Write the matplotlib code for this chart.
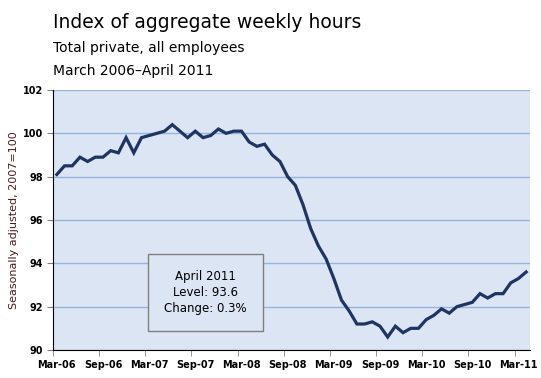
import matplotlib
matplotlib.use('Agg')
import matplotlib.pyplot as plt
import numpy as np

# monthly index, Mar 2006 - Apr 2011
months = ['Mar-06', 'Apr-06', 'May-06', 'Jun-06', 'Jul-06', 'Aug-06',
          'Sep-06', 'Oct-06', 'Nov-06', 'Dec-06', 'Jan-07', 'Feb-07',
          'Mar-07', 'Apr-07', 'May-07', 'Jun-07', 'Jul-07', 'Aug-07',
          'Sep-07', 'Oct-07', 'Nov-07', 'Dec-07', 'Jan-08', 'Feb-08',
          'Mar-08', 'Apr-08', 'May-08', 'Jun-08', 'Jul-08', 'Aug-08',
          'Sep-08', 'Oct-08', 'Nov-08', 'Dec-08', 'Jan-09', 'Feb-09',
          'Mar-09', 'Apr-09', 'May-09', 'Jun-09', 'Jul-09', 'Aug-09',
          'Sep-09', 'Oct-09', 'Nov-09', 'Dec-09', 'Jan-10', 'Feb-10',
          'Mar-10', 'Apr-10', 'May-10', 'Jun-10', 'Jul-10', 'Aug-10',
          'Sep-10', 'Oct-10', 'Nov-10', 'Dec-10', 'Jan-11', 'Feb-11',
          'Mar-11', 'Apr-11']
index_vals = [98.1, 98.5, 98.5, 98.9, 98.7, 98.9,
              98.9, 99.2, 99.1, 99.8, 99.1, 99.8,
              99.9, 100.0, 100.1, 100.4, 100.1, 99.8,
              100.1, 99.8, 99.9, 100.2, 100.0, 100.1,
              100.1, 99.6, 99.4, 99.5, 99.0, 98.7,
              98.0, 97.6, 96.7, 95.6, 94.8, 94.2,
              93.3, 92.3, 91.8, 91.2, 91.2, 91.3,
              91.1, 90.6, 91.1, 90.8, 91.0, 91.0,
              91.4, 91.6, 91.9, 91.7, 92.0, 92.1,
              92.2, 92.6, 92.4, 92.6, 92.6, 93.1,
              93.3, 93.6]
yticks = [90, 92, 94, 96, 98, 100, 102]

FS = 7
bg = '#dbe5f3'
grid_c = '#97b3de'
line_c = '#1f3461'

fig = plt.figure(figsize=(5.41, 3.78), dpi=100)
ax = fig.add_axes([53/541, 1-350/378, 477/541, 260/378])
ax.set_facecolor(bg)

x = np.arange(len(months))
ax.plot(x, index_vals, color=line_c, linewidth=2.3, solid_joinstyle='miter')

ax.set_xlim(-0.5, len(months) - 0.5)
ax.set_ylim(90, 102)
ax.set_yticks(yticks)
ax.set_yticklabels([str(v) for v in yticks], fontsize=FS, fontweight='bold')
ax.yaxis.grid(True, color=grid_c, linewidth=1)
ax.set_axisbelow(True)

# labels every 6 months on categories, tick marks on boundaries
lab_pos = x[::6]
ax.set_xticks(lab_pos)
ax.set_xticklabels([months[i] for i in lab_pos], fontsize=FS, fontweight='bold')
ax.tick_params(axis='x', which='major', length=0, pad=7)
ax.set_xticks(lab_pos - 0.5, minor=True)
ax.tick_params(axis='x', which='minor', length=4, color='#808080', direction='out')
ax.tick_params(axis='y', length=4, color='#808080', pad=3)

for s in ['top', 'right']:
    ax.spines[s].set_visible(False)
ax.spines['left'].set_color('black')
ax.spines['bottom'].set_color('black')

ax.set_ylabel('Seasonally adjusted, 2007=100', fontsize=8, color='#4a1a1a', labelpad=3)

fig.text(53/541, 1-22/378, 'Index of aggregate weekly hours', fontsize=13.5, va='center', ha='left')
fig.text(53/541, 1-48/378, 'Total private, all employees', fontsize=10, va='center', ha='left')
fig.text(53/541, 1-71/378, 'March 2006\u2013April 2011', fontsize=10, va='center', ha='left')

ax.text(0.32, 0.22, 'April 2011\nLevel: 93.6\nChange: 0.3%', transform=ax.transAxes,
        fontsize=8.5, ha='center', va='center', linespacing=1.3,
        bbox=dict(facecolor=bg, edgecolor='#7f7f7f', boxstyle='square,pad=1.35'))

plt.savefig('out.png', dpi=100)
